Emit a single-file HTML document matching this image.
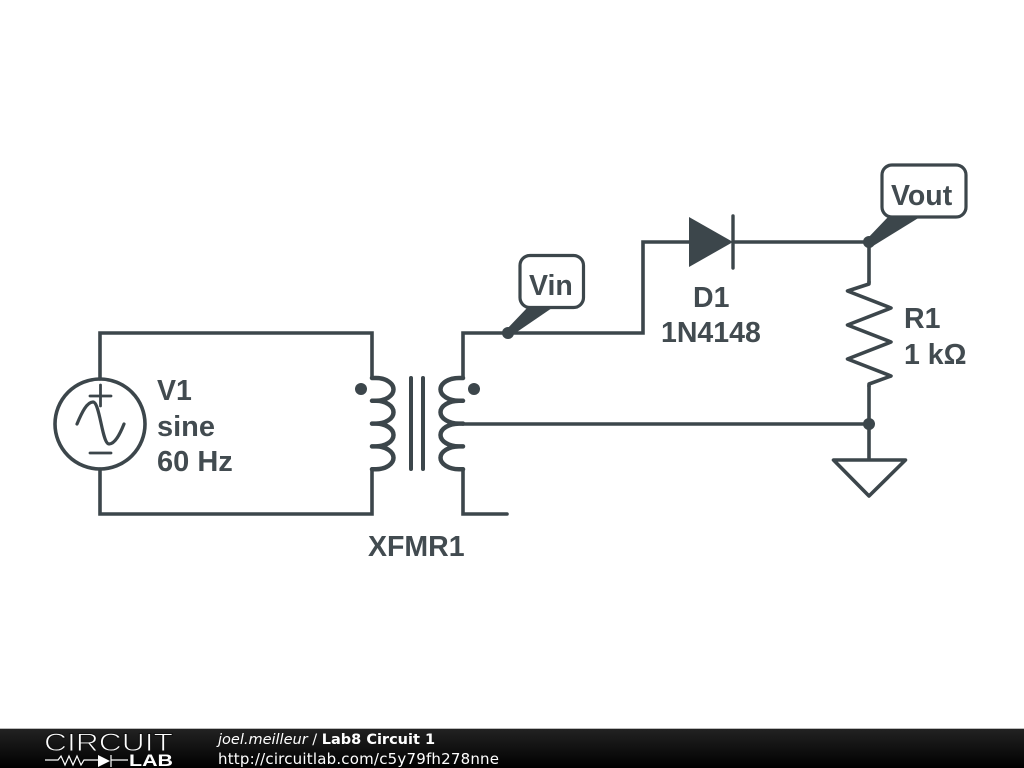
<!DOCTYPE html>
<html><head><meta charset="utf-8"><style>
html,body{margin:0;padding:0;background:#fff;width:1024px;height:768px;overflow:hidden}
svg{display:block}
</style></head><body>
<svg width="1024" height="768" viewBox="0 0 1024 768" xmlns="http://www.w3.org/2000/svg">
<defs><linearGradient id="f" x1="0" y1="0" x2="0" y2="1"><stop offset="0" stop-color="#222"/><stop offset="1" stop-color="#000"/></linearGradient></defs>
<rect width="1024" height="768" fill="#fff"/>
<g fill="none" stroke="#3c464b" stroke-width="3.600" stroke-linecap="round" stroke-linejoin="round">
<path stroke-linejoin="miter" d="M100 379V333H372V378M372 469V514H100V469"/>
<circle cx="100" cy="424" r="45"/>
<path stroke-width="2.800" d="M90 396H111M100.500 385V406M90 453H111"/>
<path stroke-width="3.200" d="M77 424C82 412 87 402 93 402C100 402 102 444 109 444C115 444 120 434 124 424"/>
<path stroke-width="4.500" d="M372 378H376A17.500 11.400 0 0 1 376 400.800H372M376 400.800A17.500 11.400 0 0 1 376 423.600H372M376 423.600A17.500 11.400 0 0 1 376 446.400H372M376 446.400A17.500 11.400 0 0 1 376 469.200H372"/>
<path stroke-width="4" d="M411 378V469M423 378V469"/>
<path stroke-width="4.500" d="M463 378H459A18.500 11.400 0 0 0 459 400.800H463M459 400.800A18.500 11.400 0 0 0 459 423.600H463M459 423.600A18.500 11.400 0 0 0 459 446.400H463M459 446.400A18.500 11.400 0 0 0 459 469.200H463"/>
<path stroke-linejoin="miter" d="M463 378V333H643V242H689M735 242H869V282M869 386V459M463 424H869M463 469V514H507"/>
<path d="M869 282V284L847.500 291L891 308L847.500 325L891 342L847.500 359L891 376L869 384V386"/>
<path stroke-width="3.400" d="M733 216V268"/>
<path d="M833.500 460H905.500L869 496Z"/>
<rect x="520" y="255.500" width="63.500" height="52" rx="10" fill="#fff" stroke-width="3.200"/>
<rect x="882" y="165" width="84" height="52" rx="10" fill="#fff" stroke-width="3.200"/>
</g>
<g fill="#3c464b">
<circle cx="361" cy="389" r="6"/>
<circle cx="474" cy="389" r="6"/>
<circle cx="508" cy="333" r="6"/>
<circle cx="869" cy="242" r="6"/>
<circle cx="869" cy="424" r="6"/>
<path d="M689 217L733 242L689 267Z"/>
<path d="M505 331L527 308H552L511 336Z"/>
<path d="M866 240L888 217H920L873 246Z"/>
</g>
<g font-family="'Liberation Sans',sans-serif" font-weight="700" font-size="28.500" fill="#424b50">
<text x="157" y="400">V1</text>
<text x="157" y="436" font-size="29">sine</text>
<text x="157" y="471" font-size="29">60 Hz</text>
<text x="368" y="556">XFMR1</text>
<text x="693" y="307">D1</text>
<text x="661" y="342">1N4148</text>
<text x="904" y="328">R1</text>
<text x="904" y="364">1 kΩ</text>
<text x="529" y="295">Vin</text>
<text x="891" y="205">Vout</text>
</g>
<rect x="0" y="729" width="1024" height="39" fill="url(#f)"/>
<rect x="0" y="728" width="1024" height="1" fill="#bbb"/>
<g fill="#fff">
<text x="44" y="751" font-family="'Liberation Sans',sans-serif" font-size="25" textLength="129" lengthAdjust="spacingAndGlyphs" stroke="#111" stroke-width="0.900">CIRCUIT</text>
<text x="129" y="766" font-family="'Liberation Sans',sans-serif" font-weight="700" font-size="16.500" textLength="44" lengthAdjust="spacingAndGlyphs">LAB</text>
<path d="M98 755L110 761L98 767Z"/>
<text x="218" y="744" font-family="'DejaVu Sans',sans-serif" font-size="14.500"><tspan font-style="italic">joel.meilleur</tspan> / <tspan font-weight="700">Lab8 Circuit 1</tspan></text>
<text x="218" y="764" font-family="'DejaVu Sans',sans-serif" font-size="15" textLength="281">http://circuitlab.com/c5y79fh278nne</text>
</g>
<path d="M45 760H58L61 756L65 765L69 756L73 765L77 756L81 765L84 760H98M111 755V767M111 760H128" fill="none" stroke="#fff" stroke-width="1.200"/>
</svg>
</body></html>
